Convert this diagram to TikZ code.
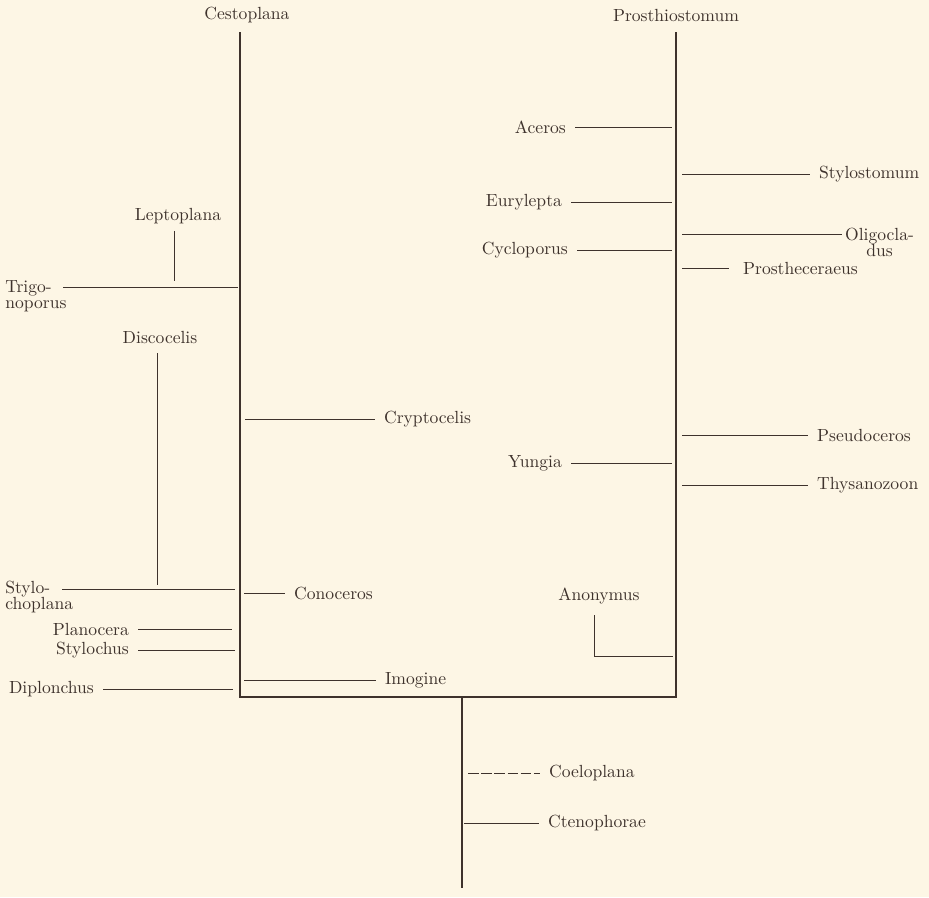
\documentclass[tikz,border=0pt]{standalone}
\usetikzlibrary{positioning}
\definecolor{paper}{RGB}{253,246,229}
\definecolor{ink}{RGB}{62,50,44}
\tikzset{
  taxon/.style={font=\fontsize{10}{9}\selectfont, text=ink, inner xsep=5pt, inner ysep=1pt},
  stem/.style={draw=ink, line width=1.3pt},
  twig/.style={draw=ink, line width=0.5pt},
}
\begin{document}
\begin{tikzpicture}[x=0.02cm,y=-0.02cm]
    \fill[paper] (0,0) rectangle (929,897);
    \useasboundingbox (0,0) rectangle (929,897);
    % the frame
    \coordinate (cl) at (240,32);
    \coordinate (cr) at (676,32);
    \coordinate (bl) at (240,697);
    \coordinate (br) at (676,697);
    \coordinate (fork) at (462,697);
    \coordinate (root) at (462,888);
    \draw[stem] (cl) -- (bl) -- (br) -- (cr);
    \draw[stem] (fork) -- (root);
    \node[taxon] (cestoplana) at (247,15) {Cestoplana};
    \node[taxon] (prosthiostomum) at (676,15) {Prosthiostomum};
    % right trunk, from the west
    \foreach \nm/\txt/\yp/\xs in {aceros/Aceros/127/575, eurylepta/Eurylepta/202/571,
        cycloporus/Cycloporus/250/577, yungia/Yungia/463/571}{
      \node[taxon,anchor=east] (\nm) at (\xs,\yp) {\txt};
      \coordinate (\nm-j) at (672,\yp);
      \draw[twig] (\nm) -- (\nm-j);
    }
    % right trunk, to the east
    \foreach \nm/\txt/\yp/\xe in {stylostomum/Stylostomum/174/810, pseudoceros/Pseudoceros/435/808,
        thysanozoon/Thysanozoon/485/808}{
      \coordinate (\nm-j) at (682,\yp);
      \node[taxon,anchor=west] (\nm) at (\xe,\yp) {\txt};
      \draw[twig] (\nm-j) -- (\nm);
    }
    \node[taxon,anchor=west,align=center] (oligocladus) at (836,242) {Oligocla-\\dus};
    \coordinate (oligocladus-j) at (682,234);
    \coordinate (oligocladus-e) at (842,234);
    \draw[twig] (oligocladus-j) -- (oligocladus-e);
    \node[taxon,anchor=west] (prostheceraeus) at (734,268) {Prostheceraeus};
    \coordinate (prostheceraeus-j) at (682,268);
    \coordinate (prostheceraeus-e) at (729,268);
    \draw[twig] (prostheceraeus-j) -- (prostheceraeus-e);
    \node[taxon] (anonymus) at (599,596) {Anonymus};
    \coordinate (anonymus-k) at (594,656);
    \coordinate (anonymus-j) at (673,656);
    \draw[twig] ([yshift=-5pt]anonymus.south -| anonymus-k) -- (anonymus-k) -- (anonymus-j);
    % left trunk, from the west
    \foreach \nm/\txt/\yp/\xs/\xe in {planocera/Planocera/629/138/232, stylochus/Stylochus/650/138/235,
        diplonchus/Diplonchus/689/103/233}{
      \node[taxon,anchor=east] (\nm) at (\xs,\yp) {\txt};
      \coordinate (\nm-j) at (\xe,\yp);
      \draw[twig] (\nm) -- (\nm-j);
    }
    \node[taxon,inner xsep=0pt,anchor=west,align=left] (trigonoporus) at (5,296) {Trigo-\\noporus};
    \coordinate (trigonoporus-s) at (63,287);
    \coordinate (trigonoporus-j) at (238,287);
    \draw[twig] (trigonoporus-s) -- (trigonoporus-j);
    \node[taxon,inner xsep=0pt,anchor=west,align=left] (stylochoplana) at (5,597) {Stylo-\\choplana};
    \coordinate (stylochoplana-s) at (62,589);
    \coordinate (stylochoplana-j) at (235,589);
    \draw[twig] (stylochoplana-s) -- (stylochoplana-j);
    \node[taxon] (leptoplana) at (178,216) {Leptoplana};
    \coordinate (leptoplana-j) at (174,281);
    \draw[twig] (leptoplana.south -| leptoplana-j) ++(0,5) -- (leptoplana-j);
    \node[taxon] (discocelis) at (160,337) {Discocelis};
    \coordinate (discocelis-j) at (157,585);
    \draw[twig] (discocelis.south -| discocelis-j) ++(0,8) -- (discocelis-j);
    % left trunk, to the east
    \foreach \nm/\txt/\yp/\xs/\xe in {cryptocelis/Cryptocelis/419/245/375, conoceros/Conoceros/593/244/285,
        imogine/Imogine/680/244/376}{
      \coordinate (\nm-j) at (\xs,\yp);
      \node[taxon,anchor=west] (\nm) at (\xe,\yp) {\txt};
      \draw[twig] (\nm-j) -- (\nm);
    }
    % the stem
    \coordinate (coeloplana-j) at (468,773);
    \node[taxon,anchor=west] (coeloplana) at (540,773) {Coeloplana};
    \draw[twig,dash pattern=on 6pt off 1.5pt] (coeloplana-j) -- (coeloplana);
    \coordinate (ctenophorae-j) at (464,823);
    \node[taxon,anchor=west] (ctenophorae) at (539,823) {Ctenophorae};
    \draw[twig] (ctenophorae-j) -- (ctenophorae);
\end{tikzpicture}
\end{document}
